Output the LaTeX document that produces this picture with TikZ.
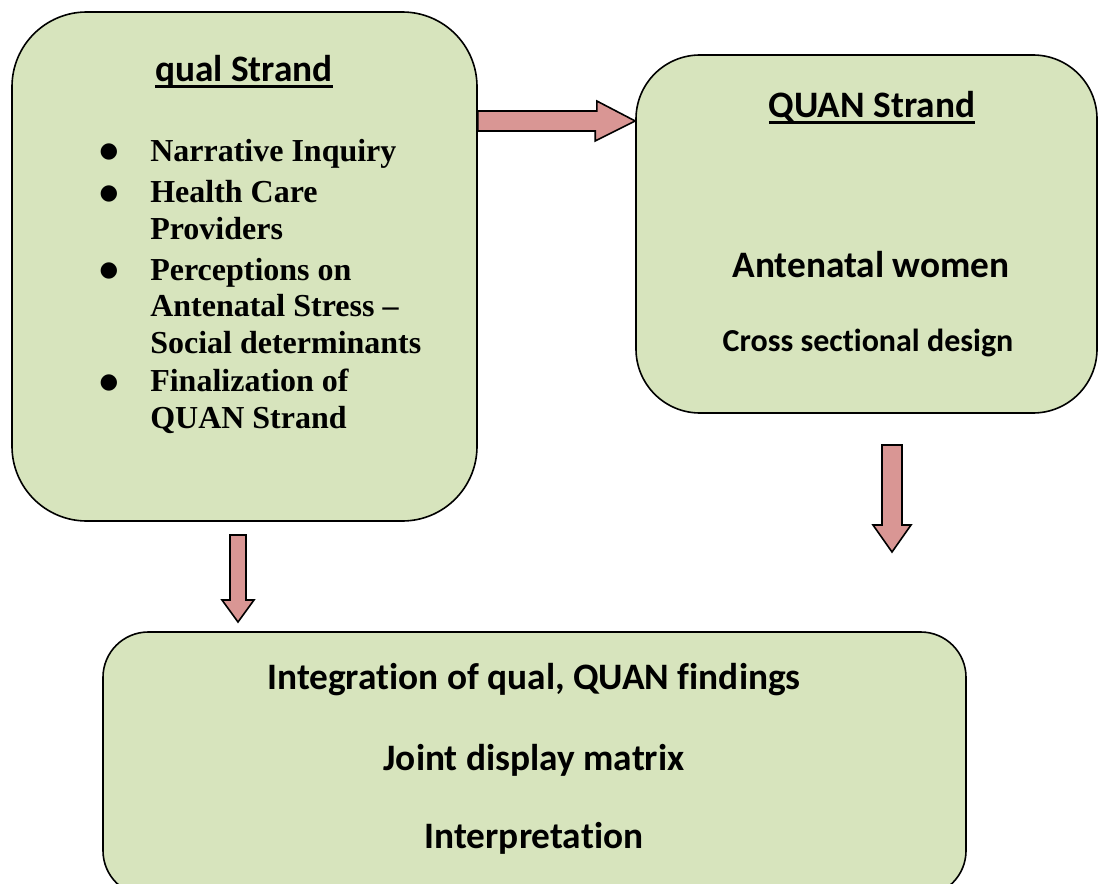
\documentclass[tikz,border=0pt]{standalone}
\usepackage{fontspec}
\setmainfont{Liberation Serif}
\newfontfamily\calibri[Ligatures = NoCommon]{Carlito}
\newfontfamily\dejavu{DejaVu Sans}
\usetikzlibrary{positioning, calc}
\definecolor{boxgreen}{HTML}{D7E4BD}
\definecolor{arrowred}{HTML}{D99694}
\newcommand{\headline}[1]{\setbox0\hbox{#1}\rlap{\rule[-4.5pt]{\wd0}{1.9pt}}\box0}
\newcommand{\bigbullet}{\kern-2pt\raisebox{2.8pt}{\dejavu\fontsize{16}{16}\selectfont ●}}
\tikzset{
  strand/.style = {
    shape = rectangle,
    draw = black,
    fill = boxgreen,
    line width = 1.2pt,
  }
}
\tikzset{
  blockarrow/.style = {
    draw = black, fill = arrowred, line width = 1.2pt, line join = miter,
  }
}
\tikzset{
  heading/.style = {anchor = base, inner sep = 0pt, font = \calibri\bfseries\fontsize{28}{34}\selectfont},
  subheading/.style = {anchor = base, inner sep = 0pt, font = \calibri\bfseries\fontsize{24}{29}\selectfont},
}

\begin{document}
\begin{tikzpicture}[x = 0.75pt, y = -0.75pt]
        \useasboundingbox (0,0) rectangle (1098,884);
        \node[strand, rounded corners = 56pt, minimum width = 348.75pt, minimum height = 381.75pt] (qual) at (244.5,266.5) {};
        \node[strand, rounded corners = 48pt, minimum width = 345.75pt, minimum height = 268.5pt] (quan) at (866.5,234) {};
        \node[strand, rounded corners = 34pt, minimum width = 647.25pt, minimum height = 198pt] (merge) at (534.5,764) {};
        % qual strand
        \node[heading] (qualtitle) at (244,82) {\headline{qual Strand}};
        \node[anchor = north west, inner sep = 0pt, font = \bfseries\fontsize{24}{27.4}\selectfont] (qualitems) at (102,135.4) {%
          \begin{tabular}[t]{@{}l@{}l@{}}
            \makebox[36pt][l]{\bigbullet} & Narrative Inquiry \\[3.9pt]
            \bigbullet & Health Care \\
             & Providers \\[3.2pt]
            \bigbullet & Perceptions on \\
             & Antenatal Stress -- \\
             & Social determinants \\[1.5pt]
            \bigbullet & Finalization of \\
             & QUAN Strand
          \end{tabular}};
        % QUAN strand
        \node[heading] (quantitle) at (872,118) {\headline{QUAN Strand}};
        \node[heading] (women) at (871,277) {Antenatal women};
        \node[subheading] (design) at (868,351) {Cross sectional design};
        % integration
        \node[heading] (integr) at (534,689) {Integration of qual, QUAN findings};
        \node[heading] (matrix) at (534,770) {Joint display matrix};
        \node[heading] (interp) at (534,848) {Interpretation};
        % block arrows
        \draw[blockarrow] (qual.east |- 0,111) -- ++(119,0) -- ++(0,-10) -- (quan.west |- 0,121)
          -- ++(-40,20) -- ++(0,-10) -- (qual.east |- 0,131) -- cycle;
        \draw[blockarrow] (230,535) -- (230,600) -- (222,600) -- (238,622) -- (254,600) -- (246,600) -- (246,535) -- cycle;
        \draw[blockarrow] (882,445) -- (882,525) -- (873,525) -- (892,552) -- (911,525) -- (902,525) -- (902,445) -- cycle;
    \end{tikzpicture}
\end{document}
